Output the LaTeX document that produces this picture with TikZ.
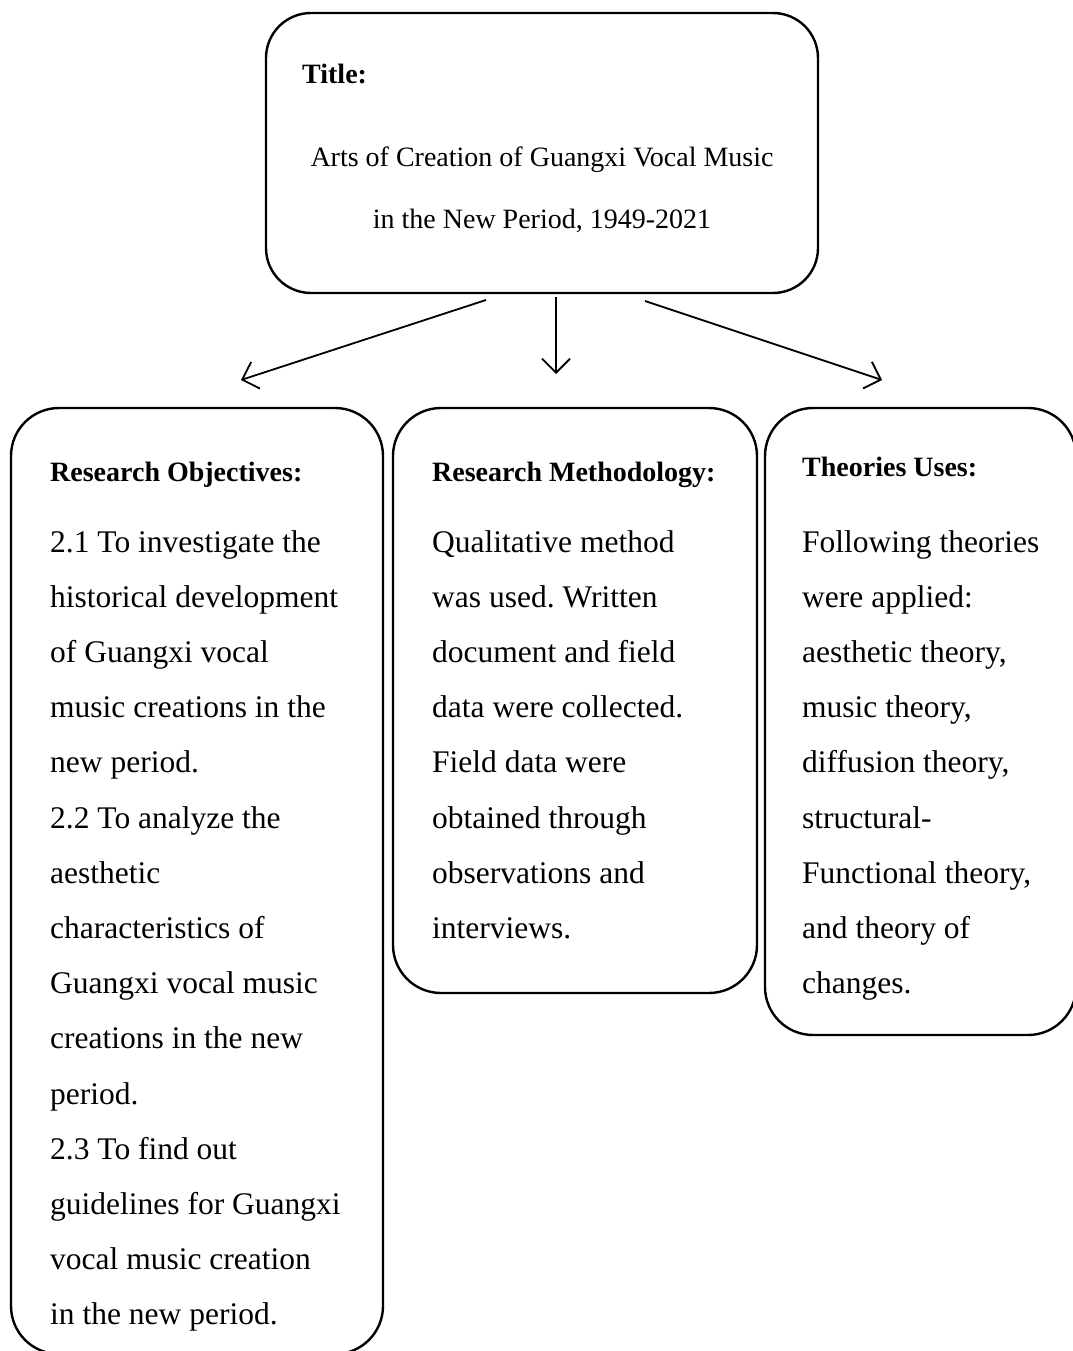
\documentclass[tikz,border=0pt]{standalone}
\usepackage{fontspec}
\setmainfont{Liberation Serif}
\usetikzlibrary{arrows.meta}
\frenchspacing
\begin{document}
\begin{tikzpicture}[x=1pt,y=-1pt,
  box/.style={draw, line width=2.4pt, rounded corners=48pt},
  head/.style={anchor=base west, inner sep=0pt, font=\fontsize{28}{28}\selectfont\bfseries},
  titletxt/.style={anchor=base, inner sep=0pt, font=\fontsize{28}{28}\selectfont},
  body/.style={anchor=base west, inner sep=0pt, font=\fontsize{31.5}{31.5}\selectfont},
  conn/.style={line width=1.8pt, -{Straight Barb[length=14pt,width=28pt,line width=1.8pt]}}]
\useasboundingbox (0,0) rectangle (1072,1351);

% boxes
\draw[box, rounded corners=45pt] (266,13) rectangle (818,293);
\draw[box] (11,408) rectangle (383,1354);
\draw[box] (393,408) rectangle (757,993);
\draw[box] (765,408) rectangle (1076,1035);

% title box text
\node[head] (ttl) at (302,84) {Title:};
\node[titletxt] (tl1) at (542,167) {Arts of Creation of Guangxi Vocal Music};
\node[titletxt] (tl2) at (542,228) {in the New Period, 1949-2021};

% arrows
\coordinate (lS) at (486,300); \coordinate (lE) at (241,380);
\coordinate (mS) at (556,297); \coordinate (mE) at (556,374);
\coordinate (rS) at (645,301); \coordinate (rE) at (882,380);
\draw[conn] (lS) -- (lE);
\draw[conn] (mS) -- (mE);
\draw[conn] (rS) -- (rE);

% headings
\node[head] (h1) at (50,481) {Research Objectives:};
\node[head] (h2) at (432,481) {Research Methodology:};
\node[head] (h3) at (802,476) {Theories Uses:};

% body texts
\foreach \t [count=\i] in {2.1 To investigate the, historical development, of Guangxi vocal, music creations in the, new period., 2.2 To analyze the, aesthetic, characteristics of, Guangxi vocal music, creations in the new, period., 2.3 To find out, guidelines for Guangxi, vocal music creation, in the new period.}
  \node[body] (ro\i) at (50,{552+(\i-1)*55.2}) {\t};

\foreach \t [count=\i] in {Qualitative method, was used. Written, document and field, data were collected., Field data were, obtained through, observations and, interviews.}
  \node[body] (rm\i) at (432,{552+(\i-1)*55.2}) {\t};

\foreach \t [count=\i] in {Following theories, were applied:, {aesthetic theory,}, {music theory,}, {diffusion theory,}, structural-, {Functional theory,}, and theory of, changes.}
  \node[body] (tu\i) at (802,{552+(\i-1)*55.2}) {\t};
\end{tikzpicture}
\end{document}
